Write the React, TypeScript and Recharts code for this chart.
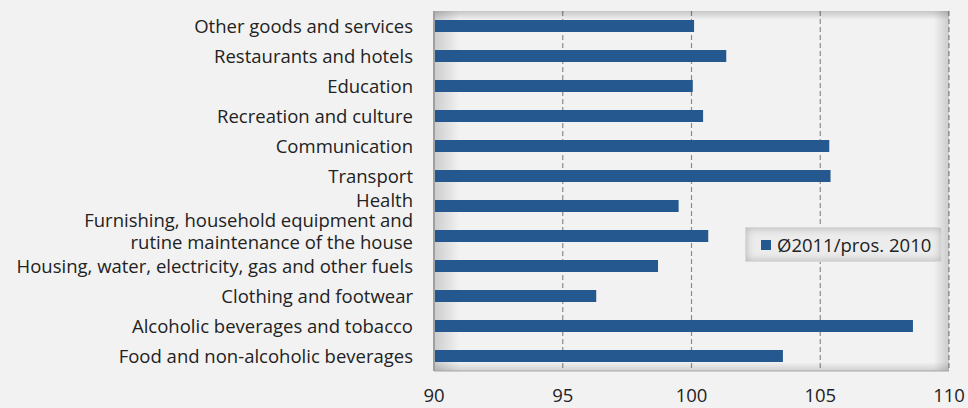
import { BarChart, Bar, XAxis, YAxis, CartesianGrid, ReferenceArea } from 'recharts'

const CATEGORIES = [
  'Other goods and services',
  'Restaurants and hotels',
  'Education',
  'Recreation and culture',
  'Communication',
  'Transport',
  'Health',
  'Furnishing, household equipment and\nrutine maintenance of the house',
  'Housing, water, electricity, gas and other fuels',
  'Clothing and footwear',
  'Alcoholic beverages and tobacco',
  'Food and non-alcoholic beverages',
]

const VALUES = [100.1, 101.35, 100.05, 100.45, 105.35, 105.4, 99.5, 100.65, 98.7, 96.3, 108.6, 103.55]

const X_TICKS = [90, 95, 100, 105, 110]

const SERIES_NAME = 'Ø2011/pros. 2010'

const BAR_COLOR = '#24588e'
const FONT = '"Open Sans", sans-serif'
const FONT_SIZE = 18.5

const data = CATEGORIES.map((name, i) => ({ name, value: VALUES[i] }))

function CategoryTick(props: any) {
  const { x, y, payload } = props
  const lines = String(payload.value).split('\n')
  // Excel squeezes the label above the two-line one upwards a bit
  const start = lines.length > 1 ? -16 : payload.value === 'Health' ? -6 : 0
  return (
    <text x={x} y={y} textAnchor="end" fontSize={FONT_SIZE} fill="#222" fontFamily={FONT}>
      {lines.map((line, i) => (
        <tspan key={i} x={x} dy={i === 0 ? start + 6.5 : 22}>
          {line}
        </tspan>
      ))}
    </text>
  )
}

function LegendBox() {
  return (
    <div
      style={{
        position: 'absolute',
        left: 745,
        top: 227,
        width: 197,
        height: 35,
        boxSizing: 'border-box',
        border: '1px solid #d9d9d9',
        background: '#ececec',
        boxShadow: 'inset 0 0 8px rgba(0,0,0,0.25)',
        display: 'flex',
        alignItems: 'center',
        paddingLeft: 15,
        fontFamily: FONT,
        fontSize: FONT_SIZE,
        color: '#222',
        whiteSpace: 'nowrap',
      }}
    >
      <span style={{ width: 10, height: 10, background: BAR_COLOR, marginRight: 6, display: 'inline-block' }} />
      {SERIES_NAME}
    </div>
  )
}

export default function App() {
  return (
    <div style={{ position: 'fixed', left: 0, top: 0, width: 968, height: 408, background: '#f2f2f2' }}>
      <BarChart
        width={968}
        height={408}
        data={data}
        layout="vertical"
        barSize={12}
        margin={{ top: 11, right: 19, bottom: 0, left: 0 }}
      >
        <defs>
          <linearGradient id="shadeH" x1="0" y1="0" x2="1" y2="0">
            <stop offset="0" stopColor="#000" stopOpacity={0.16} />
            <stop offset="0.05" stopColor="#000" stopOpacity={0} />
            <stop offset="0.97" stopColor="#000" stopOpacity={0} />
            <stop offset="1" stopColor="#000" stopOpacity={0.16} />
          </linearGradient>
          <linearGradient id="shadeV" x1="0" y1="0" x2="0" y2="1">
            <stop offset="0" stopColor="#000" stopOpacity={0.18} />
            <stop offset="0.025" stopColor="#000" stopOpacity={0} />
            <stop offset="0.975" stopColor="#000" stopOpacity={0} />
            <stop offset="1" stopColor="#000" stopOpacity={0.14} />
          </linearGradient>
        </defs>
        <ReferenceArea x1={90} x2={110} fill="url(#shadeH)" fillOpacity={1} ifOverflow="hidden" />
        <ReferenceArea x1={90} x2={110} fill="url(#shadeV)" fillOpacity={1} ifOverflow="hidden" />
        <CartesianGrid horizontal={false} stroke="#8c8c8c" strokeDasharray="5 3" strokeWidth={1.2} />
        <XAxis
          type="number"
          domain={[90, 110]}
          ticks={X_TICKS}
          allowDataOverflow
          height={37}
          tickLine={false}
          axisLine={{ stroke: '#a6a6a6' }}
          tickMargin={12}
          tick={{ fontSize: FONT_SIZE, fill: '#222', fontFamily: FONT }}
        />
        <YAxis
          type="category"
          dataKey="name"
          width={434}
          tickLine={false}
          tickSize={0}
          tickMargin={21}
          axisLine={{ stroke: '#a0a0a0', strokeWidth: 2 }}
          interval={0}
          tick={<CategoryTick />}
        />
        <Bar dataKey="value" name={SERIES_NAME} fill={BAR_COLOR} isAnimationActive={false} />
      </BarChart>
      <LegendBox />
    </div>
  )
}
